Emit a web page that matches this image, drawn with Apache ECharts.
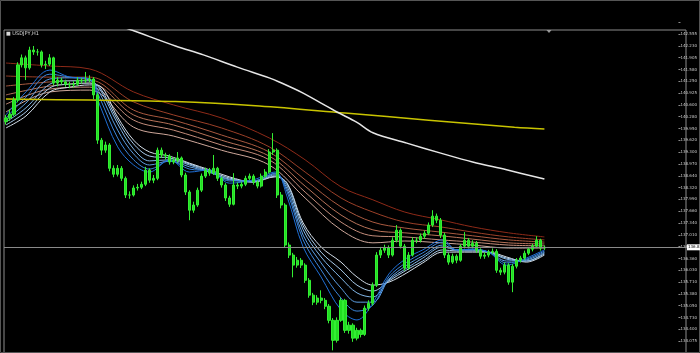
<!DOCTYPE html>
<html><head><meta charset="utf-8">
<script src="https://cdn.jsdelivr.net/npm/echarts@6/dist/echarts.min.js"></script>
<style>html,body{margin:0;padding:0;background:#000;}#c{width:700px;height:353px;}</style>
</head><body><div id="c"></div>
<script>
const tickLabels = ['134.075','134.400','134.730','135.050','135.380','135.710','136.030','136.360','136.680','137.010','137.340','137.660','137.990','138.320','138.640','138.970','139.300','139.620','139.950','140.280','140.600','140.925','141.250','141.580','141.905','142.230','142.555'];
const currentPrice = 136.812;
const opens = [140.20,140.30,140.40,140.78,141.73,141.92,141.65,142.13,142.08,142.08,141.73,141.75,141.92,141.24,141.32,141.27,141.21,141.19,141.21,141.32,141.30,141.32,141.35,140.92,139.70,139.43,139.57,138.94,138.78,138.94,138.67,138.22,138.22,138.41,138.43,138.51,138.89,138.62,138.67,139.43,139.30,139.27,139.11,139.16,139.22,138.76,138.30,137.81,137.95,138.35,138.73,138.89,138.81,138.94,138.67,138.49,138.14,137.97,138.49,138.46,138.51,138.67,138.73,138.57,138.46,138.73,138.84,139.38,139.43,138.22,137.95,136.87,136.60,136.33,136.46,136.33,135.92,135.52,135.33,135.44,135.38,135.22,134.84,134.30,134.84,135.38,134.57,134.71,134.36,134.57,134.46,135.17,135.30,135.79,136.60,136.73,136.79,136.60,137.00,137.27,136.84,136.25,136.60,137.00,137.00,137.11,137.19,137.41,137.65,137.54,137.14,136.60,136.41,136.57,136.46,136.84,137.00,136.84,136.92,136.73,136.57,136.60,136.68,136.70,136.19,136.14,136.33,135.87,136.30,136.46,136.52,136.65,136.76,136.84,137.00,136.79];
const closes = [140.30,140.40,140.78,141.73,141.92,141.65,142.13,142.08,142.08,141.73,141.75,141.92,141.24,141.32,141.27,141.21,141.19,141.21,141.32,141.30,141.32,141.35,140.92,139.70,139.43,139.57,138.94,138.78,138.94,138.67,138.22,138.22,138.41,138.43,138.51,138.89,138.62,138.67,139.43,139.30,139.27,139.11,139.16,139.22,138.76,138.30,137.81,137.95,138.35,138.73,138.89,138.81,138.94,138.67,138.49,138.14,137.97,138.49,138.46,138.51,138.67,138.73,138.57,138.46,138.73,138.84,139.38,139.43,138.22,137.95,136.87,136.60,136.33,136.46,136.33,135.92,135.52,135.33,135.44,135.38,135.22,134.84,134.30,134.84,135.38,134.57,134.71,134.36,134.57,134.46,135.17,135.30,135.79,136.60,136.73,136.79,136.60,137.00,137.27,136.84,136.25,136.60,137.00,137.00,137.11,137.19,137.41,137.65,137.54,137.14,136.60,136.41,136.57,136.46,136.84,137.00,136.84,136.92,136.73,136.57,136.60,136.68,136.70,136.19,136.14,136.33,135.87,136.30,136.46,136.52,136.65,136.76,136.84,137.00,136.79,136.81];
const lows = [140.12,140.22,140.35,140.72,141.66,141.32,141.60,142.00,141.98,141.66,141.62,141.70,141.18,141.15,141.20,141.14,141.10,141.12,141.16,141.22,141.24,141.26,140.80,139.60,139.30,139.36,138.86,138.70,138.72,138.60,138.14,138.12,138.18,138.34,138.38,138.46,138.55,138.54,138.62,139.22,139.18,139.04,139.05,139.10,138.70,138.22,137.54,137.74,137.90,138.30,138.68,138.74,138.76,138.60,138.42,138.06,137.90,137.94,138.38,138.40,138.46,138.62,138.50,138.40,138.42,138.68,138.80,139.30,138.14,137.86,136.80,136.52,136.00,136.26,136.25,135.85,135.45,135.25,135.26,135.30,135.14,134.76,134.03,134.24,134.80,134.50,134.48,134.26,134.30,134.38,134.42,135.10,135.24,135.74,136.52,136.66,136.52,136.56,136.94,136.78,136.18,136.20,136.56,136.92,136.94,137.04,137.14,137.36,137.46,137.06,136.52,136.34,136.36,136.38,136.42,136.78,136.78,136.78,136.66,136.50,136.50,136.54,136.62,136.12,136.06,136.08,135.80,135.60,136.24,136.40,136.46,136.60,136.70,136.78,136.72,136.74];
const highs = [140.38,140.52,140.86,141.80,142.01,141.98,142.22,142.24,142.16,142.12,141.84,142.02,141.95,141.40,141.38,141.33,141.28,141.29,141.40,141.38,141.54,141.45,141.40,140.98,139.76,139.66,139.62,139.02,139.03,139.00,138.72,138.32,138.48,138.52,138.58,138.98,138.94,138.76,139.50,139.50,139.36,139.32,139.24,139.38,139.26,138.82,138.35,138.04,138.42,138.80,138.96,138.95,139.30,138.98,138.72,138.54,138.20,138.81,138.56,138.58,138.74,138.80,138.78,138.62,138.80,138.92,139.46,139.89,139.48,138.30,138.00,136.94,136.66,136.55,136.52,136.38,135.98,135.58,135.52,135.65,135.44,135.28,134.90,134.92,135.44,135.42,134.80,134.76,134.64,134.62,135.24,135.38,135.86,136.68,136.82,136.88,136.86,137.08,137.41,137.32,136.90,136.68,137.08,137.08,137.18,137.26,137.48,137.81,137.72,137.60,137.20,136.66,136.64,136.62,136.90,137.22,137.06,137.00,136.98,136.78,136.68,136.74,136.78,136.76,136.26,136.40,136.38,136.36,136.52,136.58,136.72,136.82,136.90,137.11,137.04,136.86];

const shortX = [0,5,11,16,21,23.5,28,32,36,41,46,51,56,62,67.5,70.5,74.5,79,84,88,92,96,100.5,104.5,109.5,113,117,121,125.5,130.5,135];
const S1 = [140.38,141.00,141.59,141.40,141.35,140.65,139.52,139.03,138.84,139.17,138.84,138.90,138.54,138.63,138.84,138.17,136.82,136.01,135.12,134.85,135.31,136.09,136.52,136.74,137.01,136.74,136.76,136.68,136.33,136.52,136.74];
const S2 = [140.30,140.86,141.48,141.40,141.35,140.84,139.76,139.17,138.92,139.14,138.92,138.87,138.60,138.60,138.81,138.30,137.01,136.20,135.44,135.09,135.25,136.01,136.41,136.66,136.95,136.74,136.76,136.68,136.39,136.49,136.71];
const S3 = [140.24,140.70,141.35,141.38,141.32,140.97,139.97,139.33,139.03,139.14,138.98,138.84,138.63,138.60,138.79,138.38,137.14,136.39,135.71,135.33,135.33,135.95,136.33,136.58,136.87,136.74,136.74,136.68,136.44,136.47,136.68];
const S4 = [140.19,140.57,141.21,141.30,141.30,141.08,140.14,139.46,139.14,139.17,139.03,138.84,138.65,138.57,138.76,138.46,137.28,136.55,135.98,135.58,135.47,135.93,136.25,136.52,136.82,136.74,136.74,136.68,136.49,136.44,136.66];
const S5 = [140.11,140.46,141.11,141.21,141.24,141.13,140.24,139.60,139.27,139.22,139.06,138.87,138.68,138.57,138.73,138.52,137.39,136.68,136.20,135.79,135.63,135.90,136.20,136.44,136.74,136.71,136.71,136.68,136.52,136.44,136.63];
const S6 = [140.03,140.35,141.00,141.13,141.19,141.16,140.32,139.70,139.38,139.27,139.08,138.90,138.71,138.57,138.71,138.54,137.47,136.82,136.41,136.01,135.79,135.87,136.12,136.39,136.68,136.68,136.68,136.68,136.55,136.41,136.60];

const longX = [0,11,21,32,42,54,66,75,84,92,100,109,117,126,135];
const L1 = [141.78,141.70,141.62,141.00,140.65,140.30,139.76,139.17,138.44,138.09,137.76,137.55,137.36,137.20,137.09];
const L2 = [141.43,141.40,141.40,140.73,140.38,140.03,139.52,138.84,138.14,137.76,137.49,137.36,137.22,137.09,137.01];
const L3 = [141.16,141.27,141.32,140.51,140.24,139.84,139.38,138.63,137.90,137.49,137.33,137.22,137.12,137.01,136.95];
const L4 = [140.92,141.16,141.24,140.38,140.11,139.70,139.27,138.46,137.68,137.28,137.20,137.12,137.03,136.93,136.90];
const L5 = [140.67,141.08,141.13,140.24,139.97,139.57,139.17,138.30,137.49,137.12,137.09,137.01,136.95,136.87,136.85];
const L6 = [140.46,141.00,141.05,140.05,139.81,139.43,139.03,138.14,137.28,136.93,136.98,136.93,136.87,136.79,136.79];

const yellowX = [0,21,42.5,63.5,85,106,127.5,135];
const yellowMA = [140.81,140.78,140.74,140.62,140.43,140.24,140.05,140.00];
const whiteX = [28.5,31.5,42.5,49.5,58,66,68.5,74.5,79,83,88,92,100.5,109,117,125.5,135];
const whiteMA = [142.78,142.67,142.24,142.00,141.67,141.38,141.27,140.97,140.70,140.46,140.18,139.90,139.62,139.35,139.11,138.90,138.65];

const NCAT = 171;
const cats = Array.from({length: NCAT}, (_, i) => i);
const candleData = opens.map((o, i) => [o, closes[i], lows[i], highs[i]]);
const pair = (xs, vs) => xs.map((x, i) => [x, vs[i]]);

const shortColors = ['#1f6fd6','#3c86db','#5d9ee2','#80b5e6','#a8cbea','#d2dde8'];
const longColors = ['#8e2a18','#9c4028','#aa5a40','#b87359','#c48d7b','#cfa89b'];

function lineSeries(name, data, color, width) {
  return {
    name, type: 'line', xAxisIndex: 1, yAxisIndex: 0, data,
    smooth: 0.35, symbol: 'none', z: 2, silent: true,
    lineStyle: { color, width: width || 1 }
  };
}

const series = [];
[L1,L2,L3,L4,L5,L6].forEach((a, k) => series.push(lineSeries('L' + (k+1), pair(longX, a), longColors[k])));
[S6,S5,S4,S3,S2,S1].forEach((a, k) => series.push(lineSeries('S' + (6-k), pair(shortX, a), shortColors[5-k])));
series.push(lineSeries('yellow', pair(yellowX, yellowMA), '#c9c400', 1.5));
series.push(lineSeries('white', pair(whiteX, whiteMA), '#e6e6e6', 1.5));
series.push({
  type: 'candlestick', xAxisIndex: 0, yAxisIndex: 0, data: candleData, barWidth: 2.6, z: 3,
  itemStyle: { color: '#22dd22', color0: '#22dd22', borderColor: '#33ee33', borderColor0: '#33ee33', borderWidth: 1 },
  markLine: {
    silent: true, symbol: ['none','none'], animation: false,
    lineStyle: { color: '#8a8a8a', type: 'solid', width: 1 },
    label: { show: true, position: 'end', formatter: currentPrice.toFixed(3), backgroundColor: '#ffffff', color: '#000', fontSize: 4, padding: [1,1], distance: 1, fontFamily: 'DejaVu Sans' },
    data: [{ yAxis: currentPrice }]
  }
});

const chart = echarts.init(document.getElementById('c'), null, { renderer: 'canvas' });
chart.setOption({
  backgroundColor: '#000',
  animation: false,
  grid: [
    { left: 4, width: 682, top: 30, height: 323, show: true, borderColor: '#8c8c8c', borderWidth: 1, backgroundColor: '#000' },
    { left: 4, width: 682, top: 22.2, height: 338.6, show: false }
  ],
  xAxis: [
    { type: 'category', gridIndex: 0, data: cats, show: false, boundaryGap: true },
    { type: 'value', gridIndex: 0, min: -0.5, max: NCAT - 0.5, show: false },
    { type: 'value', gridIndex: 1, min: 0, max: 1, show: false }
  ],
  yAxis: [
    { type: 'value', gridIndex: 0, min: 133.959, max: 142.671, show: false, scale: true },
    { type: 'value', gridIndex: 1, position: 'right', min: 133.74885, max: 142.88115, interval: 0.32615,
      splitLine: { show: false }, axisLine: { show: false, onZero: false },
      axisTick: { show: true, length: 2, inside: false, lineStyle: { color: '#8c8c8c' } },
      axisLabel: { show: true, fontSize: 4, color: '#cccccc', margin: 2, fontFamily: 'DejaVu Sans',
        showMinLabel: false, showMaxLabel: false,
        formatter: v => { const k = Math.round((v - 134.075) / 0.32615); return tickLabels[k] || ''; } } }
  ],
  series: series,
  graphic: [
    { type: 'rect', shape: { x: 0.5, y: 0.5, width: 699, height: 352 }, style: { fill: 'none', stroke: '#555', lineWidth: 1 }, silent: true },
    { type: 'text', left: 6, top: 31.5, style: { text: '\u25A0 USDJPY,H1', fill: '#d8d8d8', fontSize: 5, fontFamily: 'DejaVu Sans' }, silent: true },
    { type: 'polygon', shape: { points: [[546.5,30],[551.5,30],[549,33]] }, style: { fill: '#9a9a9a' }, silent: true }
  ]
});
</script></body></html>
